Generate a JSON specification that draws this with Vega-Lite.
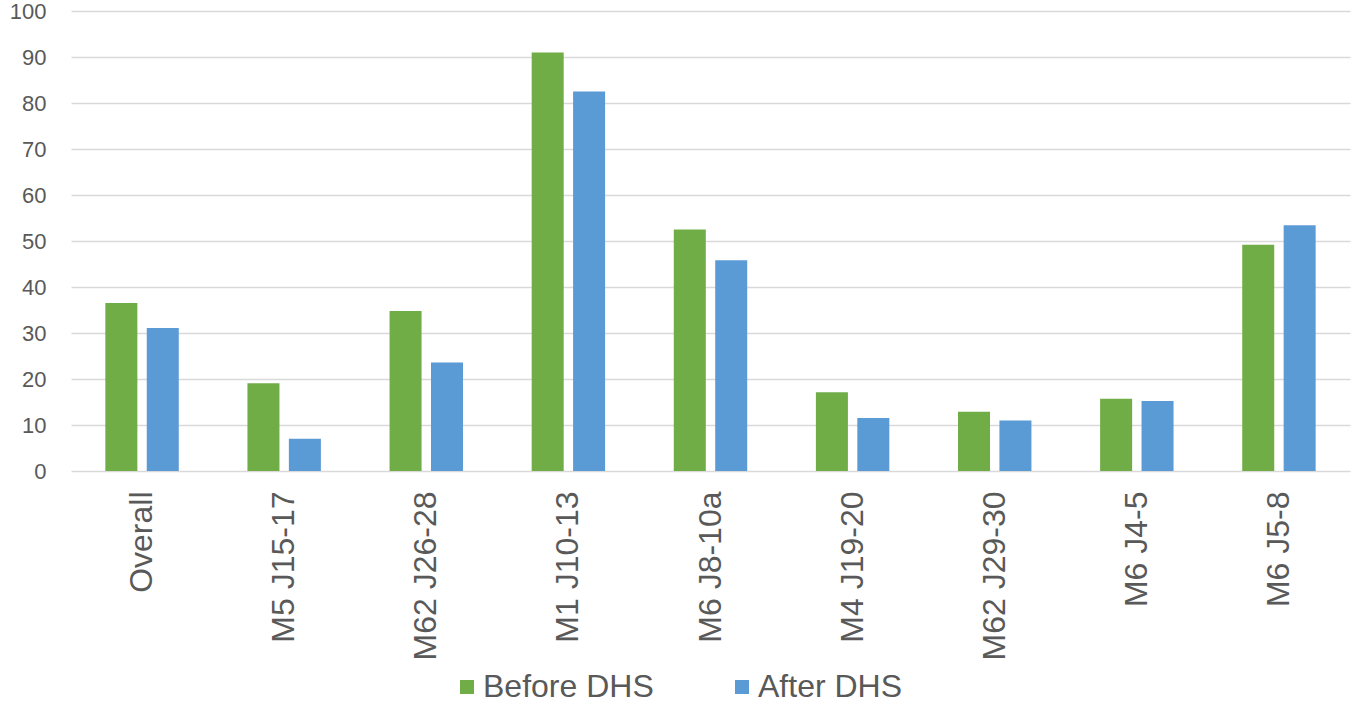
{
  "$schema": "https://vega.github.io/schema/vega-lite/v6.json",
  "width": 1279,
  "height": 460,
  "autosize": {"type": "none"},
  "padding": {"left": 71, "top": 11, "right": 2, "bottom": 235},
  "background": "white",
  "config": {
    "view": {"stroke": null},
    "font": "Liberation Sans"
  },
  "data": {
    "values": [
      {"category": "Overall", "series": "Before DHS", "value": 36.5},
      {"category": "Overall", "series": "After DHS", "value": 31.1},
      {"category": "M5 J15-17", "series": "Before DHS", "value": 19.1},
      {"category": "M5 J15-17", "series": "After DHS", "value": 7.0},
      {"category": "M62 J26-28", "series": "Before DHS", "value": 34.8},
      {"category": "M62 J26-28", "series": "After DHS", "value": 23.6},
      {"category": "M1 J10-13", "series": "Before DHS", "value": 91.0},
      {"category": "M1 J10-13", "series": "After DHS", "value": 82.5},
      {"category": "M6 J8-10a", "series": "Before DHS", "value": 52.5},
      {"category": "M6 J8-10a", "series": "After DHS", "value": 45.8},
      {"category": "M4 J19-20", "series": "Before DHS", "value": 17.1},
      {"category": "M4 J19-20", "series": "After DHS", "value": 11.5},
      {"category": "M62 J29-30", "series": "Before DHS", "value": 12.9},
      {"category": "M62 J29-30", "series": "After DHS", "value": 11.0},
      {"category": "M6 J4-5", "series": "Before DHS", "value": 15.7},
      {"category": "M6 J4-5", "series": "After DHS", "value": 15.2},
      {"category": "M6 J5-8", "series": "Before DHS", "value": 49.2},
      {"category": "M6 J5-8", "series": "After DHS", "value": 53.4}
    ]
  },
  "mark": {"type": "bar"},
  "encoding": {
    "x": {
      "field": "category",
      "type": "nominal",
      "sort": null,
      "scale": {"paddingInner": 0, "paddingOuter": 0},
      "axis": {
        "title": null,
        "labelAngle": -90,
        "labelAlign": "right",
        "labelBaseline": "middle",
        "labelFontSize": 32,
        "labelColor": "#595959",
        "labelPadding": 20,
        "labelLimit": 400,
        "ticks": false,
        "domain": false,
        "grid": false
      }
    },
    "xOffset": {
      "field": "series",
      "type": "nominal",
      "sort": ["Before DHS", "After DHS"],
      "scale": {"paddingInner": 0.227, "paddingOuter": 0.829}
    },
    "y": {
      "field": "value",
      "type": "quantitative",
      "scale": {"domain": [0, 100], "nice": false},
      "axis": {
        "title": null,
        "values": [0, 10, 20, 30, 40, 50, 60, 70, 80, 90, 100],
        "grid": true,
        "gridColor": "#d9d9d9",
        "gridWidth": 1.3,
        "domain": false,
        "ticks": false,
        "labelPadding": 25,
        "labelFontSize": 22,
        "labelColor": "#595959"
      }
    },
    "color": {
      "field": "series",
      "type": "nominal",
      "scale": {"domain": ["Before DHS", "After DHS"], "range": ["#70AD47", "#5B9BD5"]},
      "legend": {
        "title": null,
        "orient": "none",
        "direction": "horizontal",
        "legendX": 380,
        "legendY": 660,
        "symbolType": "square",
        "symbolSize": 196,
        "symbolStrokeWidth": 0,
        "labelFontSize": 32,
        "labelColor": "#595959",
        "labelOffset": 0,
        "labelLimit": 400,
        "columnPadding": 72
      }
    }
  }
}
